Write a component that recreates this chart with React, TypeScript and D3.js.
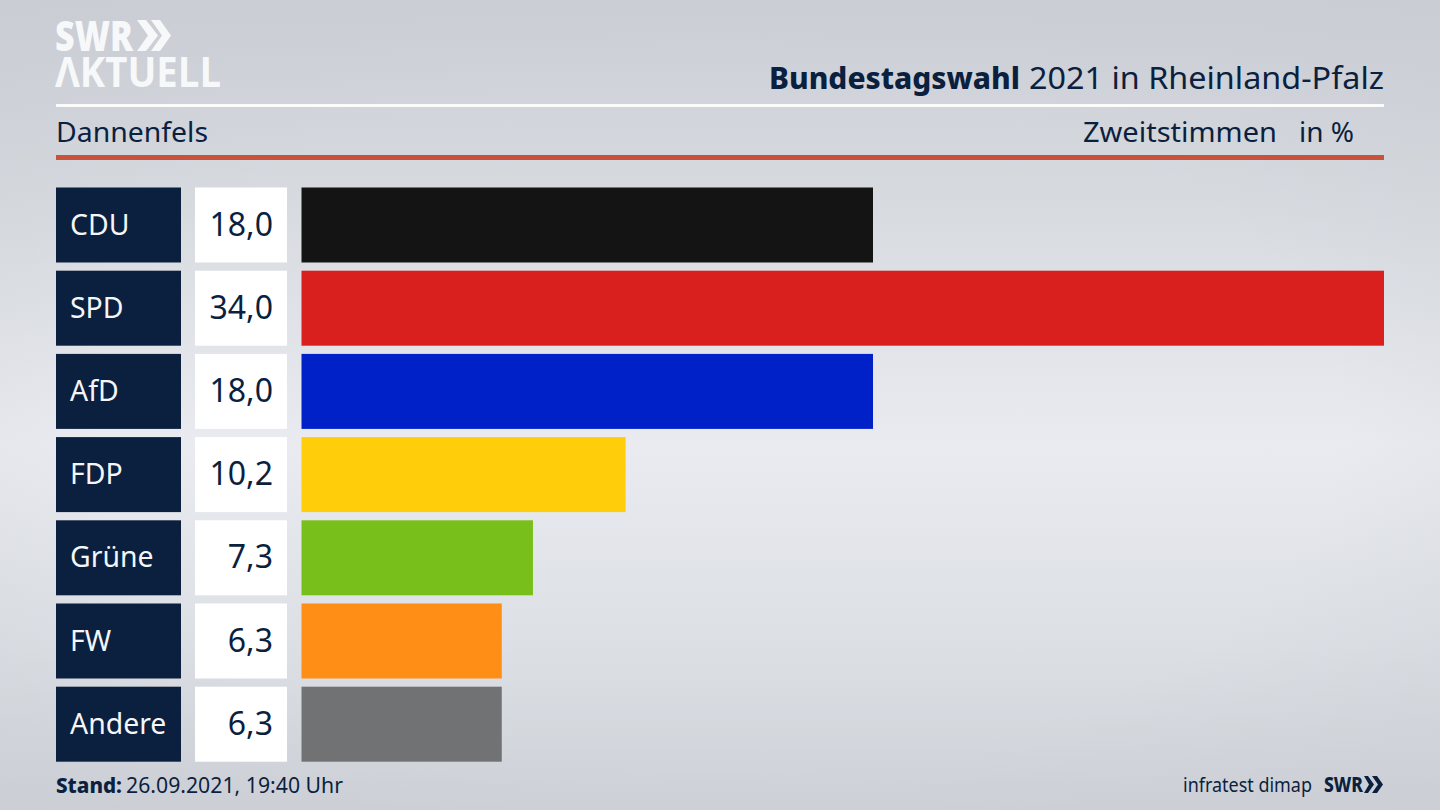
import React from "react";
import * as d3 from "d3";

const parties = ["CDU", "SPD", "AfD", "FDP", "Grüne", "FW", "Andere"];
const valueLabels = ["18,0", "34,0", "18,0", "10,2", "7,3", "6,3", "6,3"];
const shares = [17.95, 34.0, 17.95, 10.18, 7.27, 6.29, 6.29];
const colors = ["#141414", "#d9201f", "#0021c8", "#ffcd09", "#79bf1b", "#ff8e17", "#717274"];
const NAVY = "#0b1f3f";
const FONT = "'Noto Sans', 'Open Sans', sans-serif";

export default function App() {
  const x = d3.scaleLinear().domain([0, 34]).range([301.5, 1384]);
  const h = 75;
  const step = 83.2;
  const top = (i: number) => 187.5 + i * step;
  return (
    <svg width={1440} height={810} viewBox="0 0 1440 810"
      style={{ position: "fixed", left: 0, top: 0, display: "block" }} fontFamily={FONT}>
      <defs>
        <linearGradient id="base" x1="0" y1="0" x2="0" y2="1">
          <stop offset="0" stopColor="#cbced5" />
          <stop offset="0.25" stopColor="#d7dadf" />
          <stop offset="0.55" stopColor="#e9ebf0" />
          <stop offset="0.8" stopColor="#dcdfe4" />
          <stop offset="1" stopColor="#cdd0d6" />
        </linearGradient>
        <radialGradient id="vig" cx="0.5" cy="0.52" r="0.72">
          <stop offset="0.6" stopColor="#c8cbd2" stopOpacity="0" />
          <stop offset="1" stopColor="#c8cbd2" stopOpacity="0.45" />
        </radialGradient>
      </defs>
      <rect width={1440} height={810} fill="url(#base)" />
      <rect width={1440} height={810} fill="url(#vig)" />

      {/* Logo */}
      <g fill="#f7f8f9">
        <text x={55} y={51} fontSize={42} fontWeight={800} textLength={78} lengthAdjust="spacingAndGlyphs"
          style={{ fontFamily: "'Open Sans', sans-serif" }}>SWR</text>
        <path d="M137 20h9l12 15.500-12 15.500h-9l11-15.500z" />
        <path d="M151 20h9l11 15.500-11 15.500h-9l11-15.500z" />
        <text x={55} y={87} fontSize={42} fontWeight={700} textLength={166} lengthAdjust="spacingAndGlyphs"
          style={{ fontFamily: "'Open Sans', sans-serif" }}>ΛKTUELL</text>
      </g>

      {/* Header */}
      <text x={769} y={89} fontSize={31} fontWeight={800} fill={NAVY} textLength={251} lengthAdjust="spacingAndGlyphs">Bundestagswahl</text>
      <text x={1029} y={89} fontSize={31} fill={NAVY} textLength={355} lengthAdjust="spacingAndGlyphs">2021 in Rheinland-Pfalz</text>
      <rect x={56} y={104} width={1328} height={3} fill="#fbfbfc" />
      <text x={56} y={142} fontSize={28} fill={NAVY} textLength={152} lengthAdjust="spacingAndGlyphs">Dannenfels</text>
      <text x={1277} y={142} textAnchor="end" fontSize={28} fill={NAVY} textLength={194} lengthAdjust="spacingAndGlyphs">Zweitstimmen</text>
      <text x={1354} y={142} textAnchor="end" fontSize={28} fill={NAVY} textLength={55} lengthAdjust="spacingAndGlyphs">in %</text>
      <rect x={56} y={155} width={1328} height={5} fill="#c9523d" />

      {/* Rows */}
      {parties.map((p, i) => (
        <g key={p}>
          <rect x={56} y={top(i)} width={125} height={h} fill={NAVY} />
          <text x={70} y={top(i) + 47} fontSize={28.4} fill="#f4f6f8">{p}</text>
          <rect x={195} y={top(i)} width={92} height={h} fill="#ffffff" />
          <text x={273} y={top(i) + 48} fontSize={32} textAnchor="end" fill={NAVY}>{valueLabels[i]}</text>
          <rect x={x(0)} y={top(i)} width={x(shares[i]) - x(0)} height={h} fill={colors[i]} />
        </g>
      ))}

      {/* Footer */}
      <text x={56} y={793} fontSize={22} fontWeight={800} fill={NAVY} textLength={66} lengthAdjust="spacingAndGlyphs">Stand:</text>
      <text x={126} y={793} fontSize={22} fill={NAVY} textLength={217} lengthAdjust="spacingAndGlyphs">26.09.2021, 19:40 Uhr</text>
      <text x={1312} y={792} fontSize={20} textAnchor="end" fill={NAVY} textLength={129} lengthAdjust="spacingAndGlyphs">infratest dimap</text>
      <text x={1324} y={792} fontSize={22} fontWeight={800} fill={NAVY} textLength={39} lengthAdjust="spacingAndGlyphs">SWR</text>
      <path fill={NAVY} d="M1364 776h4l6 8.500-6 8.500h-4l5-8.500z" />
      <path fill={NAVY} d="M1372 776h5l6 8.500-6 8.500h-5l6-8.500z" />
    </svg>
  );
}
